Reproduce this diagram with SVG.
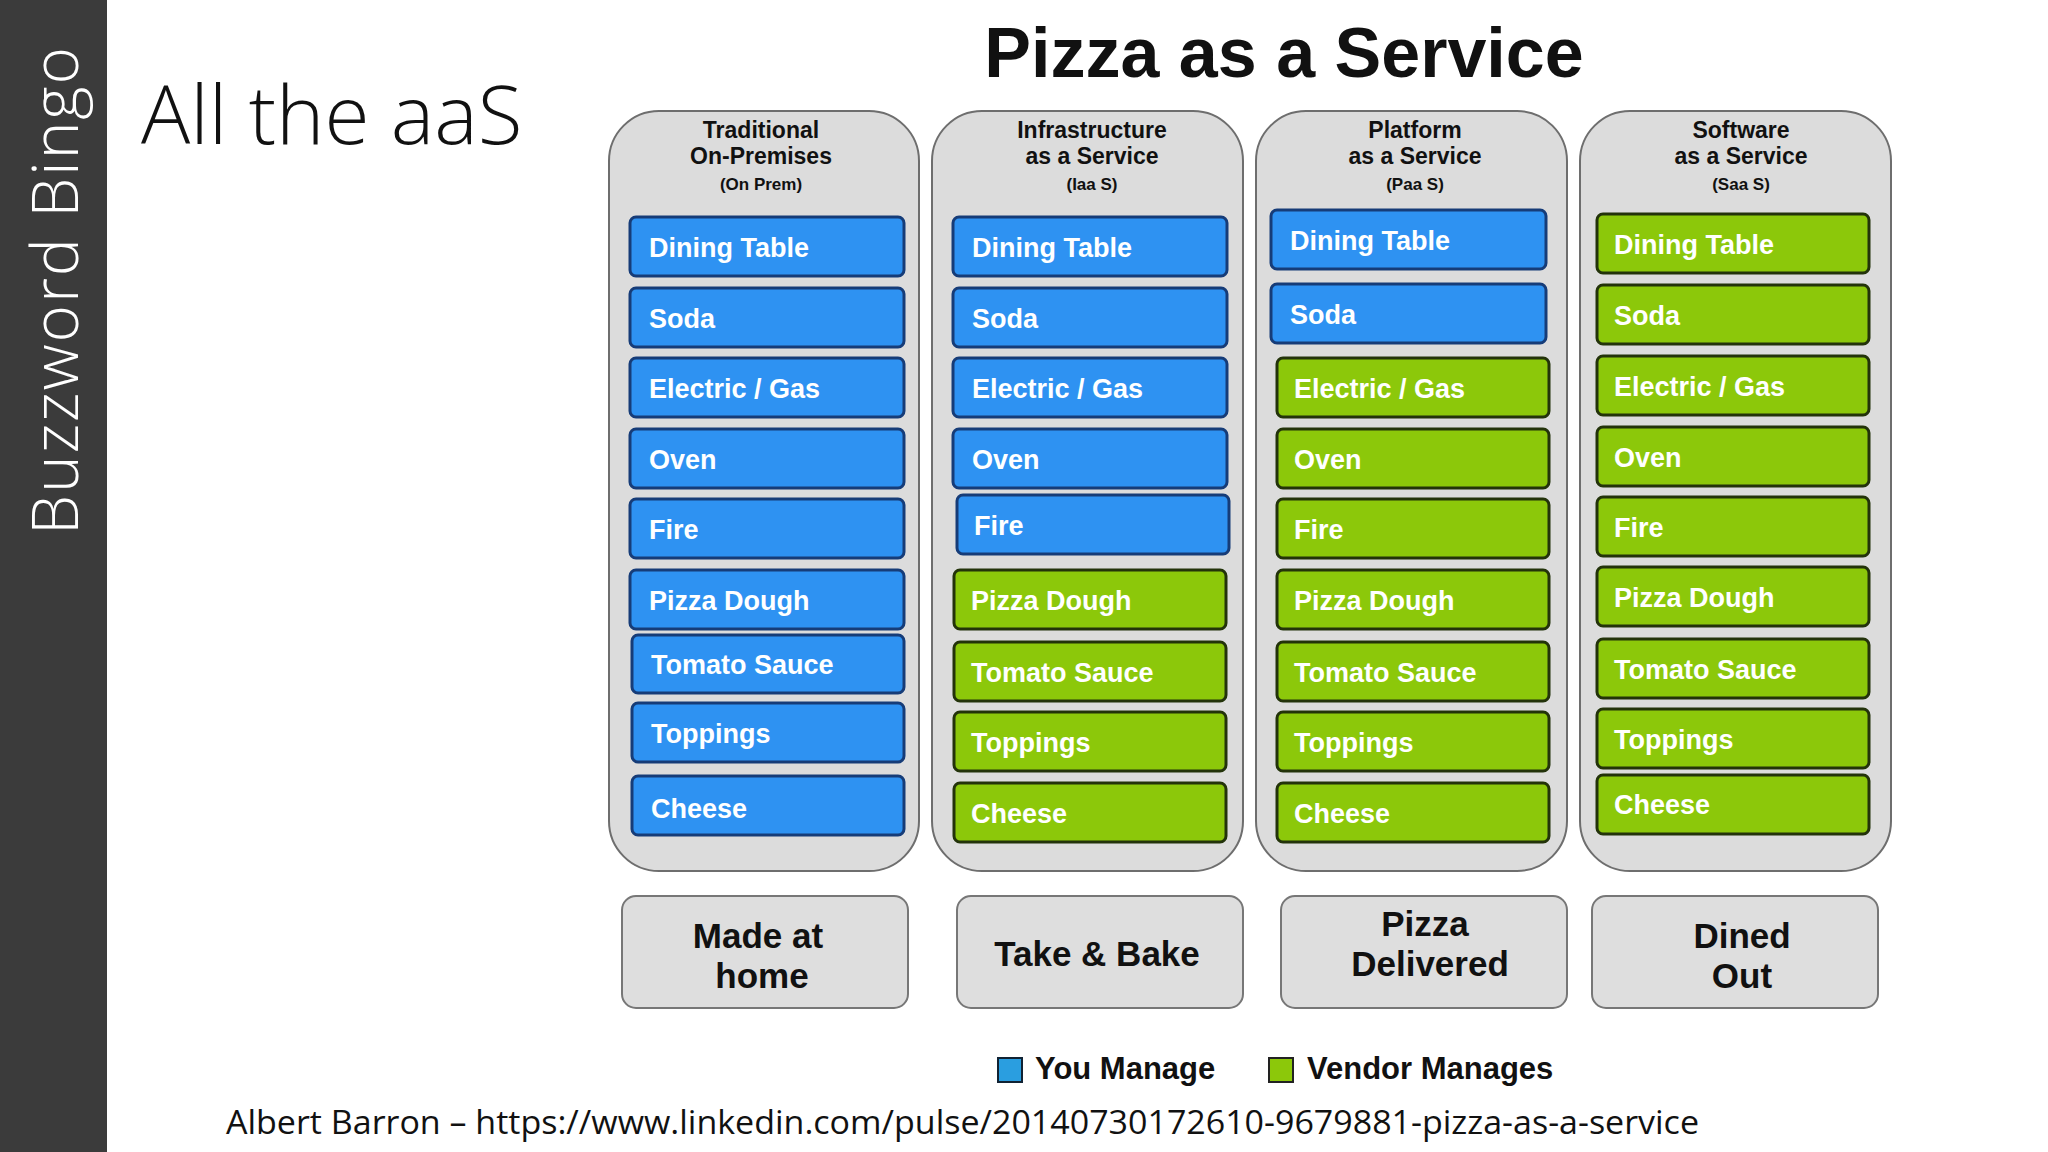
<svg xmlns="http://www.w3.org/2000/svg" width="2048" height="1152" viewBox="0 0 2048 1152">
<style>
.col{fill:#dcdcdc;stroke:#6e6e6e;stroke-width:2}
.b{fill:#2e92f2;stroke:#163c78;stroke-width:3}
.g{fill:#8cc80a;stroke:#23330a;stroke-width:3}
.cell{font-family:"Liberation Sans",Arial,sans-serif;font-weight:bold;font-size:27px;fill:#fff}
.hd{font-family:"Liberation Sans",Arial,sans-serif;font-weight:bold;font-size:23px;fill:#111;text-anchor:middle}
.hs{font-family:"Liberation Sans",Arial,sans-serif;font-weight:bold;font-size:17px;fill:#111;text-anchor:middle}
.bot{fill:#dedede;stroke:#777;stroke-width:2}
.bt{font-family:"Liberation Sans",Arial,sans-serif;font-weight:bold;font-size:35px;fill:#111;text-anchor:middle}
.lg{font-family:"Liberation Sans",Arial,sans-serif;font-weight:bold;font-size:31px;fill:#111}
</style>
<rect width="2048" height="1152" fill="#fff"/>
<rect x="0" y="0" width="107" height="1152" fill="#3b3b3b"/>
<text transform="translate(78,535) rotate(-90)" font-family="'Open Sans',sans-serif" font-weight="300" font-size="64" fill="#fff" textLength="488">Buzzword Bingo</text>
<text x="141" y="144" font-family="'Open Sans',sans-serif" font-weight="300" font-size="82" fill="#111">All the aaS</text>
<text x="1284" y="77" font-family="'Liberation Sans',Arial,sans-serif" font-weight="bold" font-size="70" fill="#111" text-anchor="middle">Pizza as a Service</text>

<g id="col1">
<rect class="col" x="609" y="111" width="310" height="760" rx="50"/>
<text class="hd" x="761" y="138">Traditional</text><text class="hd" x="761" y="164">On-Premises</text><text class="hs" x="761" y="190">(On Prem)</text>
<rect class="b" x="630" y="217" width="274" height="59" rx="6"/><text class="cell" x="649" y="257">Dining Table</text>
<rect class="b" x="630" y="288" width="274" height="59" rx="6"/><text class="cell" x="649" y="328">Soda</text>
<rect class="b" x="630" y="358" width="274" height="59" rx="6"/><text class="cell" x="649" y="398">Electric / Gas</text>
<rect class="b" x="630" y="429" width="274" height="59" rx="6"/><text class="cell" x="649" y="469">Oven</text>
<rect class="b" x="630" y="499" width="274" height="59" rx="6"/><text class="cell" x="649" y="539">Fire</text>
<rect class="b" x="630" y="570" width="274" height="59" rx="6"/><text class="cell" x="649" y="610">Pizza Dough</text>
<rect class="b" x="632" y="635" width="272" height="58" rx="6"/><text class="cell" x="651" y="674">Tomato Sauce</text>
<rect class="b" x="632" y="703" width="272" height="59" rx="6"/><text class="cell" x="651" y="743">Toppings</text>
<rect class="b" x="632" y="776" width="272" height="59" rx="6"/><text class="cell" x="651" y="818">Cheese</text>
</g>
<g id="col2">
<rect class="col" x="932" y="111" width="311" height="760" rx="50"/>
<text class="hd" x="1092" y="138">Infrastructure</text><text class="hd" x="1092" y="164">as a Service</text><text class="hs" x="1092" y="190">(Iaa S)</text>
<rect class="b" x="953" y="217" width="274" height="59" rx="6"/><text class="cell" x="972" y="257">Dining Table</text>
<rect class="b" x="953" y="288" width="274" height="59" rx="6"/><text class="cell" x="972" y="328">Soda</text>
<rect class="b" x="953" y="358" width="274" height="59" rx="6"/><text class="cell" x="972" y="398">Electric / Gas</text>
<rect class="b" x="953" y="429" width="274" height="59" rx="6"/><text class="cell" x="972" y="469">Oven</text>
<rect class="b" x="957" y="495" width="272" height="59" rx="6"/><text class="cell" x="974" y="535">Fire</text>
<rect class="g" x="954" y="570" width="272" height="59" rx="6"/><text class="cell" x="971" y="610">Pizza Dough</text>
<rect class="g" x="954" y="642" width="272" height="59" rx="6"/><text class="cell" x="971" y="682">Tomato Sauce</text>
<rect class="g" x="954" y="712" width="272" height="59" rx="6"/><text class="cell" x="971" y="752">Toppings</text>
<rect class="g" x="954" y="783" width="272" height="59" rx="6"/><text class="cell" x="971" y="823">Cheese</text>
</g>
<g id="col3">
<rect class="col" x="1256" y="111" width="311" height="760" rx="50"/>
<text class="hd" x="1415" y="138">Platform</text><text class="hd" x="1415" y="164">as a Service</text><text class="hs" x="1415" y="190">(Paa S)</text>
<rect class="b" x="1271" y="210" width="275" height="59" rx="6"/><text class="cell" x="1290" y="250">Dining Table</text>
<rect class="b" x="1271" y="284" width="275" height="59" rx="6"/><text class="cell" x="1290" y="324">Soda</text>
<rect class="g" x="1277" y="358" width="272" height="59" rx="6"/><text class="cell" x="1294" y="398">Electric / Gas</text>
<rect class="g" x="1277" y="429" width="272" height="59" rx="6"/><text class="cell" x="1294" y="469">Oven</text>
<rect class="g" x="1277" y="499" width="272" height="59" rx="6"/><text class="cell" x="1294" y="539">Fire</text>
<rect class="g" x="1277" y="570" width="272" height="59" rx="6"/><text class="cell" x="1294" y="610">Pizza Dough</text>
<rect class="g" x="1277" y="642" width="272" height="59" rx="6"/><text class="cell" x="1294" y="682">Tomato Sauce</text>
<rect class="g" x="1277" y="712" width="272" height="59" rx="6"/><text class="cell" x="1294" y="752">Toppings</text>
<rect class="g" x="1277" y="783" width="272" height="59" rx="6"/><text class="cell" x="1294" y="823">Cheese</text>
</g>
<g id="col4">
<rect class="col" x="1580" y="111" width="311" height="760" rx="50"/>
<text class="hd" x="1741" y="138">Software</text><text class="hd" x="1741" y="164">as a Service</text><text class="hs" x="1741" y="190">(Saa S)</text>
<rect class="g" x="1597" y="214" width="272" height="59" rx="6"/><text class="cell" x="1614" y="254">Dining Table</text>
<rect class="g" x="1597" y="285" width="272" height="59" rx="6"/><text class="cell" x="1614" y="325">Soda</text>
<rect class="g" x="1597" y="356" width="272" height="59" rx="6"/><text class="cell" x="1614" y="396">Electric / Gas</text>
<rect class="g" x="1597" y="427" width="272" height="59" rx="6"/><text class="cell" x="1614" y="467">Oven</text>
<rect class="g" x="1597" y="497" width="272" height="59" rx="6"/><text class="cell" x="1614" y="537">Fire</text>
<rect class="g" x="1597" y="567" width="272" height="59" rx="6"/><text class="cell" x="1614" y="607">Pizza Dough</text>
<rect class="g" x="1597" y="639" width="272" height="59" rx="6"/><text class="cell" x="1614" y="679">Tomato Sauce</text>
<rect class="g" x="1597" y="709" width="272" height="59" rx="6"/><text class="cell" x="1614" y="749">Toppings</text>
<rect class="g" x="1597" y="775" width="272" height="59" rx="6"/><text class="cell" x="1614" y="814">Cheese</text>
</g>
<g id="bot1"><rect class="bot" x="622" y="896" width="286" height="112" rx="14"/><text class="bt" x="758" y="948">Made at</text><text class="bt" x="762" y="988">home</text></g>
<g id="bot2"><rect class="bot" x="957" y="896" width="286" height="112" rx="14"/><text class="bt" x="1097" y="966">Take &amp; Bake</text></g>
<g id="bot3"><rect class="bot" x="1281" y="896" width="286" height="112" rx="14"/><text class="bt" x="1425" y="936">Pizza</text><text class="bt" x="1430" y="976">Delivered</text></g>
<g id="bot4"><rect class="bot" x="1592" y="896" width="286" height="112" rx="14"/><text class="bt" x="1742" y="948">Dined</text><text class="bt" x="1742" y="988">Out</text></g>
<g id="legend">
<rect x="998" y="1058" width="24" height="24" fill="#2a9ee0" stroke="#123" stroke-width="2"/>
<text class="lg" x="1035" y="1079">You Manage</text>
<rect x="1269" y="1058" width="24" height="24" fill="#8cc80a" stroke="#222" stroke-width="2"/>
<text class="lg" x="1307" y="1079">Vendor Manages</text>
</g>
<text x="226" y="1134" font-family="'Open Sans',sans-serif" font-size="33" fill="#111" textLength="1473" lengthAdjust="spacingAndGlyphs">Albert Barron – https://www.linkedin.com/pulse/20140730172610-9679881-pizza-as-a-service</text>
<g id="connectors"/>
</svg>
